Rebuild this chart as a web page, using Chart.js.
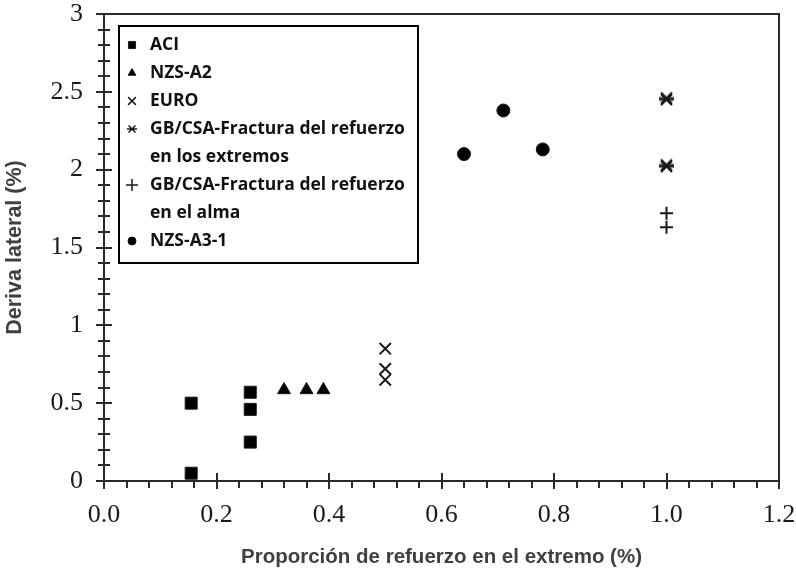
<!DOCTYPE html>
<html>
<head>
<meta charset="utf-8">
<script src="https://cdn.jsdelivr.net/npm/chart.js@4.4.0/dist/chart.umd.min.js"></script>
<style>
  html, body { margin: 0; padding: 0; background: #fff; }
</style>
</head>
<body>
<canvas id="chart" width="796" height="578"></canvas>
<script>
// series values
const aciX = [0.155, 0.155, 0.26, 0.26, 0.26];
const aciY = [0.50, 0.05, 0.57, 0.46, 0.25];
const nzsA2X = [0.32, 0.36, 0.39];
const nzsA2Y = [0.585, 0.585, 0.585];
const euroX = [0.5, 0.5, 0.5];
const euroY = [0.85, 0.72, 0.65];
const gbExtX = [1.0, 1.0, 1.0, 1.0];
const gbExtY = [2.45, 2.46, 2.02, 2.03];
const gbAlmaX = [1.0, 1.0];
const gbAlmaY = [1.72, 1.63];
const nzsA31X = [0.64, 0.71, 0.78];
const nzsA31Y = [2.10, 2.38, 2.13];

const legendLines = [
    ['ACI'],
    ['NZS-A2'],
    ['EURO'],
    ['GB/CSA-Fractura del refuerzo', 'en los extremos'],
    ['GB/CSA-Fractura del refuerzo', 'en el alma'],
    ['NZS-A3-1']
];

const xTicks = [0, 0.2, 0.4, 0.6, 0.8, 1.0, 1.2];
const yTicks = [0, 0.5, 1, 1.5, 2, 2.5, 3];

const ink = '#1a1a1a';

function pts(xs, ys) {
    return xs.map((x, i) => ({ x: x, y: ys[i] }));
}

// X with a horizontal bar, used for the GB/CSA (extremos) marker
function makeStar(size, lw) {
    const c = document.createElement('canvas');
    c.width = size; c.height = size;
    const g = c.getContext('2d');
    g.strokeStyle = ink;
    g.lineWidth = lw;
    const m = lw;
    g.beginPath();
    g.moveTo(m, m); g.lineTo(size - m, size - m);
    g.moveTo(size - m, m); g.lineTo(m, size - m);
    g.moveTo(0, size / 2); g.lineTo(size, size / 2);
    g.stroke();
    return c;
}
const starBig = makeStar(15, 2);
const starSmall = makeStar(10, 1.5);

const datasets = [
    { data: pts(aciX, aciY), pointStyle: 'rect', pointRadius: 8.5, pointBorderWidth: 1 },
    { data: pts(nzsA2X, nzsA2Y), pointStyle: 'triangle', pointRadius: 7.5, pointBorderWidth: 1 },
    { data: pts(euroX, euroY), pointStyle: 'crossRot', pointRadius: 8, pointBorderWidth: 2 },
    { data: pts(gbExtX, gbExtY), pointStyle: starBig, pointRadius: 7, pointBorderWidth: 2 },
    { data: pts(gbAlmaX, gbAlmaY), pointStyle: 'cross', pointRadius: 6.5, pointBorderWidth: 2 },
    { data: pts(nzsA31X, nzsA31Y), pointStyle: 'circle', pointRadius: 6.5, pointBorderWidth: 1 }
].map((d, i) => Object.assign(d, {
    label: legendLines[i].join(' '),
    backgroundColor: '#000',
    borderColor: ink,
    showLine: false
}));

// legend marker sizes (smaller than the plotted ones)
const legendMarks = [
    { pointStyle: 'rect', radius: 5, borderWidth: 1 },
    { pointStyle: 'triangle', radius: 4.5, borderWidth: 1 },
    { pointStyle: 'crossRot', radius: 5.5, borderWidth: 1.5 },
    { pointStyle: starSmall, radius: 5, borderWidth: 1.5 },
    { pointStyle: 'cross', radius: 6, borderWidth: 1.5 },
    { pointStyle: 'circle', radius: 4, borderWidth: 1 }
];

// frame + ticks crossing the axes
const framePlugin = {
    id: 'frame',
    beforeDatasetsDraw(chart) {
        const { ctx, chartArea: a, scales: { x, y } } = chart;
        ctx.save();
        ctx.strokeStyle = '#2a2a2a';
        ctx.lineWidth = 2;
        ctx.beginPath();
        // y ticks
        for (let k = 0; k <= 30; k++) {
            const py = Math.round(y.getPixelForValue(k / 10));
            const len = (k % 5 === 0) ? 8 : 6;
            ctx.moveTo(a.left - len, py);
            ctx.lineTo(a.left + len, py);
        }
        // x ticks
        for (let k = 0; k <= 30; k++) {
            const px = Math.round(x.getPixelForValue(k * 0.04));
            if (k % 5 === 0) {
                ctx.moveTo(px, a.bottom - 8);
                ctx.lineTo(px, a.bottom + 8);
            } else {
                ctx.moveTo(px, a.bottom);
                ctx.lineTo(px, a.bottom + 7);
            }
        }
        ctx.stroke();
        ctx.strokeRect(a.left, a.top, a.right - a.left, a.bottom - a.top);
        ctx.restore();
    }
};

const legendPlugin = {
    id: 'boxLegend',
    afterDraw(chart) {
        const ctx = chart.ctx;
        ctx.save();
        ctx.strokeStyle = '#000';
        ctx.lineWidth = 2;
        ctx.strokeRect(119, 26, 299, 237);
        ctx.font = 'bold 17.5px "Open Sans"';
        ctx.textBaseline = 'middle';
        let row = 0;
        legendLines.forEach((lines, i) => {
            const yy = 45 + row * 28;
            ctx.fillStyle = '#000';
            ctx.strokeStyle = ink;
            ctx.lineWidth = legendMarks[i].borderWidth;
            Chart.helpers.drawPoint(ctx, Object.assign({ rotation: 0 }, legendMarks[i]), 132, yy);
            ctx.fillStyle = '#111';
            lines.forEach((t, j) => {
                ctx.fillText(t, 150, 45 + (row + j) * 28);
            });
            row += lines.length;
        });
        ctx.restore();
    }
};

const ctx = document.getElementById('chart').getContext('2d');

new Chart(ctx, {
    type: 'scatter',
    data: { datasets: datasets },
    options: {
        responsive: false,
        animation: false,
        layout: { padding: { left: 0, top: 14, right: 17, bottom: 0 } },
        plugins: {
            legend: { display: false },
            tooltip: { enabled: false }
        },
        scales: {
            x: {
                type: 'linear',
                min: 0,
                max: 1.2,
                afterBuildTicks: s => { s.ticks = xTicks.map(v => ({ value: v })); },
                afterFit: s => { s.height = 97; s.paddingLeft = 0; s.paddingRight = 0; },
                grid: { display: false, drawTicks: false },
                border: { display: false },
                ticks: {
                    padding: 19,
                    color: ink,
                    font: { family: 'Liberation Serif', size: 26 },
                    callback: v => v.toFixed(1)
                },
                title: {
                    display: true,
                    text: 'Proporción de refuerzo en el extremo (%)',
                    color: '#404040',
                    font: { family: 'Liberation Sans', size: 20.5, weight: 'bold' },
                    padding: { top: 2, bottom: 8 }
                }
            },
            y: {
                type: 'linear',
                min: 0,
                max: 3,
                afterBuildTicks: s => { s.ticks = yTicks.map(v => ({ value: v })); },
                afterFit: s => { s.width = 104; s.paddingTop = 0; s.paddingBottom = 0; },
                grid: { display: false, drawTicks: false },
                border: { display: false },
                ticks: {
                    padding: 21,
                    color: ink,
                    font: { family: 'Liberation Serif', size: 26 },
                    callback: v => String(v)
                },
                title: {
                    display: true,
                    text: 'Deriva lateral (%)',
                    color: '#404040',
                    font: { family: 'Liberation Sans', size: 21.5, weight: 'bold' },
                    padding: { top: 2, bottom: 2 }
                }
            }
        }
    },
    plugins: [framePlugin, legendPlugin]
});
</script>
</body>
</html>
